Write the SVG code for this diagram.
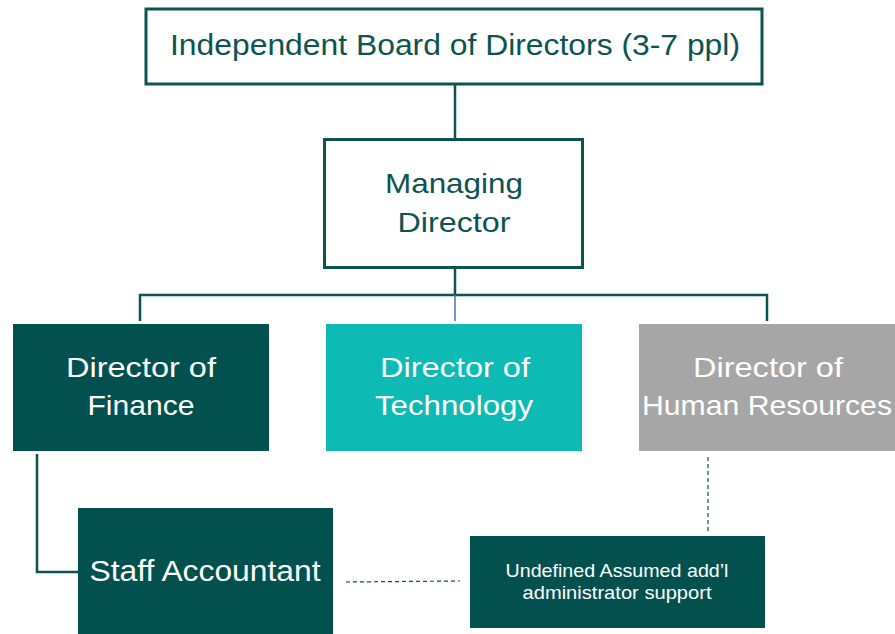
<svg xmlns="http://www.w3.org/2000/svg" width="895" height="634" viewBox="0 0 895 634">
  <style>
    .outline { fill: #ffffff; stroke: #0b5452; stroke-width: 3; }
    .solid { fill: #02514f; }
    .tech { fill: #0dbab4; }
    .hr { fill: #a6a6a6; }
    .link { fill: none; stroke: #0b5452; stroke-width: 2.5; }
    .dash { fill: none; stroke: #0b5452; stroke-width: 1.2; stroke-dasharray: 4 3; }
    text { font-family: "Liberation Sans", Arial, sans-serif; text-anchor: middle; }
    .dark { fill: #0b5452; }
    .light { fill: #ffffff; }
  </style>

  <!-- connectors -->
  <g id="connectors">
    <line class="link" x1="455" y1="85" x2="455" y2="139"/>
    <line class="link" x1="455" y1="268" x2="455" y2="295"/>
    <polyline class="link" points="140,321 140,295 767,295 767,321"/>
    <line x1="455" y1="295" x2="455" y2="321" stroke="#4472c4" stroke-width="1.5"/>
    <polyline class="link" points="37,454 37,572 78,572"/>
    <line class="dash" x1="346" y1="582" x2="460" y2="581"/>
    <line class="dash" x1="708" y1="457" x2="708" y2="533"/>
  </g>

  <g id="board">
    <rect class="outline" x="146" y="9" width="616" height="75"/>
    <text class="dark" x="455" y="55" font-size="30" textLength="570" lengthAdjust="spacingAndGlyphs">Independent Board of Directors (3-7 ppl)</text>
  </g>

  <g id="managing-director">
    <rect class="outline" x="324.5" y="139.5" width="258" height="128"/>
    <text class="dark" x="454" y="193" font-size="28" textLength="138" lengthAdjust="spacingAndGlyphs">Managing</text>
    <text class="dark" x="454" y="232" font-size="28" textLength="113" lengthAdjust="spacingAndGlyphs">Director</text>
  </g>

  <g id="director-finance">
    <rect class="solid" x="13" y="324" width="256" height="127"/>
    <text class="light" x="141" y="377" font-size="28" textLength="150" lengthAdjust="spacingAndGlyphs">Director of</text>
    <text class="light" x="141" y="415" font-size="28" textLength="107" lengthAdjust="spacingAndGlyphs">Finance</text>
  </g>

  <g id="director-technology">
    <rect class="tech" x="326" y="324" width="256" height="127"/>
    <text class="light" x="455" y="377" font-size="28" textLength="150" lengthAdjust="spacingAndGlyphs">Director of</text>
    <text class="light" x="454" y="415" font-size="28" textLength="158" lengthAdjust="spacingAndGlyphs">Technology</text>
  </g>

  <g id="director-hr">
    <rect class="hr" x="639" y="324" width="256" height="127"/>
    <text class="light" x="768" y="377" font-size="28" textLength="150" lengthAdjust="spacingAndGlyphs">Director of</text>
    <text class="light" x="767" y="415" font-size="28" textLength="250" lengthAdjust="spacingAndGlyphs">Human Resources</text>
  </g>

  <g id="staff-accountant">
    <rect class="solid" x="78" y="508" width="255" height="126"/>
    <text class="light" x="205" y="581" font-size="29" textLength="231" lengthAdjust="spacingAndGlyphs">Staff Accountant</text>
  </g>

  <g id="admin-support">
    <rect class="solid" x="470" y="536" width="295" height="92"/>
    <text class="light" x="617" y="577" font-size="19" textLength="223" lengthAdjust="spacingAndGlyphs">Undefined Assumed add’l</text>
    <text class="light" x="617" y="599" font-size="19" textLength="189" lengthAdjust="spacingAndGlyphs">administrator support</text>
  </g>
</svg>
